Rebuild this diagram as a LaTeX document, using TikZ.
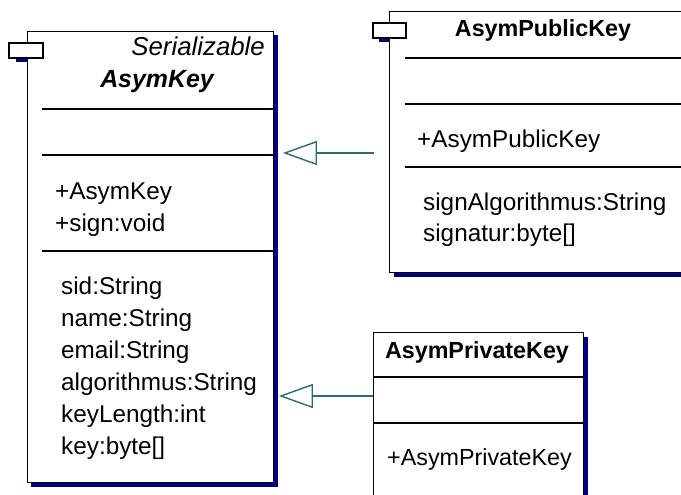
\documentclass[tikz,border=0pt]{standalone}
\usepackage{fontspec}
\setmainfont{Liberation Sans}
\usetikzlibrary{arrows.meta}
\definecolor{shade}{RGB}{0,0,128}
\definecolor{genline}{RGB}{46,107,107}
\begin{document}
\begin{tikzpicture}[x=1pt,y=-1pt,
  umlbox/.style={draw=black, fill=white, line width=1.4pt, rectangle, inner sep=0pt, anchor=north west},
  shadowfill/.style={fill=shade, draw=none},
  iconbox/.style={draw=black, fill=white, line width=1.4pt},
  sepline/.style={draw=black, line width=1.4pt},
  txt/.style={inner sep=0pt, anchor=base west, font=\fontsize{24.3}{28}\selectfont},
  title/.style={inner sep=0pt, anchor=base, font=\fontsize{23.3}{28}\selectfont\bfseries},
  gen/.style={draw=genline, line width=1.4pt, -{Triangle[open, length=34pt, width=24pt]}}
]
\clip (0,0) rectangle (681,495);
\fill[white] (0,0) rectangle (681,495);

% ---------- AsymKey ----------
\fill[shadowfill] (16,58) rectangle (27,62.5);
\fill[shadowfill] (31,35) rectangle (277.5,487);
\node[umlbox, minimum width=246pt, minimum height=451pt] (key) at (27,31) {};
\draw[iconbox] (9,43) rectangle (43,58);
\node[inner sep=0pt, anchor=base east, font=\fontsize{25.8}{28}\selectfont\itshape] (keyster) at (265,56) {Serializable};
\node[title, font=\fontsize{24.9}{28}\selectfont\bfseries\itshape] (keyname) at (157,88) {AsymKey};
\draw[sepline] (42,109) -- (273,109);
\draw[sepline] (42,155) -- (273,155);
\node[txt] (kop1) at (55,199) {+AsymKey};
\node[txt] (kop2) at (55,231) {+sign:void};
\draw[sepline] (42,251) -- (273,251);
\node[txt] (ka1) at (61,294) {sid:String};
\node[txt] (ka2) at (61,326) {name:String};
\node[txt] (ka3) at (61,358) {email:String};
\node[txt] (ka4) at (61,390) {algorithmus:String};
\node[txt] (ka5) at (61,422) {keyLength:int};
\node[txt] (ka6) at (61,454) {key:byte[]};

% ---------- AsymPublicKey ----------
\fill[shadowfill] (379,38) rectangle (389,42);
\fill[shadowfill] (394,15) rectangle (705,276.5);
\node[umlbox, minimum width=311pt, minimum height=261pt] (pub) at (389,11) {};
\draw[iconbox] (373,23) rectangle (406,38);
\node[title] (pubname) at (543,37) {AsymPublicKey};
\draw[sepline] (405,58) -- (700,58);
\draw[sepline] (405,104) -- (700,104);
\node[txt] (pop1) at (417,147) {+AsymPublicKey};
\draw[sepline] (405,167) -- (700,167);
\node[txt] (pa1) at (423,210) {signAlgorithmus:String};
\node[txt] (pa2) at (423,241) {signatur:byte[]};

% ---------- AsymPrivateKey ----------
\fill[shadowfill] (377,337) rectangle (587.5,525);
\node[umlbox, minimum width=210pt, minimum height=188pt] (priv) at (373,332) {};
\node[title] (privname) at (477,358) {AsymPrivateKey};
\draw[sepline] (373,377) -- (583,377);
\draw[sepline] (373,423) -- (583,423);
\node[txt, font=\fontsize{23.3}{28}\selectfont] (prop1) at (387,465) {+AsymPrivateKey};

% ---------- generalisations ----------
\coordinate (pubend) at (374,153);
\coordinate (lowy) at (0,396);
\draw[gen, shorten >=8.5pt] (pubend) -- (key.east |- pubend);
\draw[gen, shorten >=4.5pt] (priv.west |- lowy) -- (key.east |- lowy);
\end{tikzpicture}
\end{document}
